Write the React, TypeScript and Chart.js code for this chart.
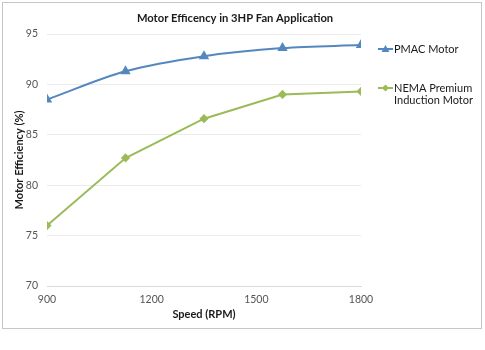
import React, { useEffect, useRef } from "react";
import { Chart, registerables } from "chart.js";

Chart.register(...registerables);

const speeds = [900, 1125, 1350, 1575, 1800];
const pmacEff = [88.5, 91.3, 92.8, 93.6, 93.9];
const nemaEff = [76.0, 82.7, 86.6, 89.0, 89.3];
const seriesNames = ["PMAC Motor", "NEMA Premium\nInduction Motor"];
const chartTitle = "Motor Efficency in 3HP Fan Application";
const xTitle = "Speed (RPM)";
const yTitle = "Motor Efficiency (%)";
const xMin = 900, xMax = 1800, xStep = 300;
const yMin = 70, yMax = 95, yStep = 5;

const FONT = "Lato, 'Open Sans', sans-serif";
const BLUE = "#5487c0";
const GREEN = "#9bbb59";

const frameAndTextPlugin = {
  id: "frameAndText",
  beforeDraw(chart: any) {
    const ctx = chart.ctx;
    ctx.save();
    ctx.fillStyle = "#ffffff";
    ctx.fillRect(0, 0, chart.width, chart.height);
    ctx.strokeStyle = "#c6c6c6";
    ctx.lineWidth = 1;
    ctx.strokeRect(2.5, 2.5, 479, 326);
    ctx.restore();
  },
  afterDraw(chart: any) {
    const ctx = chart.ctx;
    ctx.save();
    ctx.fillStyle = "#1a1a1a";
    ctx.font = `bold 11.2px ${FONT}`;
    ctx.textAlign = "center";
    ctx.textBaseline = "middle";
    ctx.fillText(chartTitle, 235, 18);

    // legend
    const ys = [49, 88];
    chart.data.datasets.forEach((ds: any, i: number) => {
      const y = ys[i];
      ctx.strokeStyle = ds.borderColor;
      ctx.lineWidth = 2;
      ctx.beginPath();
      ctx.moveTo(378, y);
      ctx.lineTo(393, y);
      ctx.stroke();
      ctx.fillStyle = ds.borderColor;
      const cx = 385.5;
      ctx.beginPath();
      if (ds.pointStyle === "triangle") {
        ctx.moveTo(cx, y - 4);
        ctx.lineTo(cx + 4, y + 3);
        ctx.lineTo(cx - 4, y + 3);
      } else {
        ctx.moveTo(cx, y - 3.5);
        ctx.lineTo(cx + 3.5, y);
        ctx.lineTo(cx, y + 3.5);
        ctx.lineTo(cx - 3.5, y);
      }
      ctx.closePath();
      ctx.fill();
      ctx.fillStyle = "#1a1a1a";
      ctx.font = `11px ${FONT}`;
      ctx.textAlign = "left";
      ctx.textBaseline = "middle";
      String(ds.label).split("\n").forEach((line: string, k: number) => {
        ctx.fillText(line, 394, y + k * 12.5);
      });
    });
    ctx.restore();
  },
};

export default function App() {
  const ref = useRef<HTMLCanvasElement | null>(null);
  useEffect(() => {
    document.body.style.margin = "0";
    const canvas = ref.current!;
    const chart = new Chart(canvas, {
      type: "line",
      data: {
        datasets: [
          {
            label: seriesNames[0],
            data: speeds.map((s, i) => ({ x: s, y: pmacEff[i] })),
            borderColor: BLUE,
            backgroundColor: BLUE,
            borderWidth: 2,
            pointStyle: "triangle",
            pointRadius: 4,
            tension: 0.35,
            cubicInterpolationMode: "monotone",
          },
          {
            label: seriesNames[1],
            data: speeds.map((s, i) => ({ x: s, y: nemaEff[i] })),
            borderColor: GREEN,
            backgroundColor: GREEN,
            borderWidth: 2,
            pointStyle: "rectRot",
            pointRadius: 3.2,
            tension: 0,
          },
        ],
      },
      options: {
        responsive: false,
        animation: false,
        layout: { padding: { left: 0, right: 124, top: 34, bottom: 0 } },
        plugins: {
          legend: { display: false },
          title: { display: false },
          tooltip: { enabled: false },
        },
        scales: {
          x: {
            type: "linear",
            min: xMin,
            max: xMax,
            ticks: { stepSize: xStep, color: "#555", font: { family: FONT, size: 10.5 }, padding: 7, callback: (v: any) => String(v) },
            grid: { display: true, drawOnChartArea: false, drawTicks: false, color: "#d9d9d9" },
            border: { display: true, color: "#d9d9d9" },
            title: { display: true, text: xTitle, color: "#1a1a1a", font: { family: FONT, size: 11, weight: "bold" }, padding: { top: 4, bottom: 29 } },
            afterFit(scale: any) { scale.height = 64; },
          },
          y: {
            min: yMin,
            max: yMax,
            ticks: { stepSize: yStep, color: "#555", font: { family: FONT, size: 10.5 }, padding: 9, callback: (v: any) => String(v) },
            grid: { color: "#ebebeb", drawTicks: false },
            border: { display: false },
            title: { display: true, text: yTitle, color: "#1a1a1a", font: { family: FONT, size: 11, weight: "bold" }, padding: { top: 13, bottom: 4 } },
            afterFit(scale: any) { scale.width = 47; },
          },
        },
      } as any,
      plugins: [frameAndTextPlugin],
    });
    return () => chart.destroy();
  }, []);
  return (
    <div style={{ position: "fixed", left: 0, top: 0, width: 485, height: 350 }}>
      <canvas ref={ref} width={485} height={350} style={{ width: 485, height: 350, display: "block" }} />
    </div>
  );
}
